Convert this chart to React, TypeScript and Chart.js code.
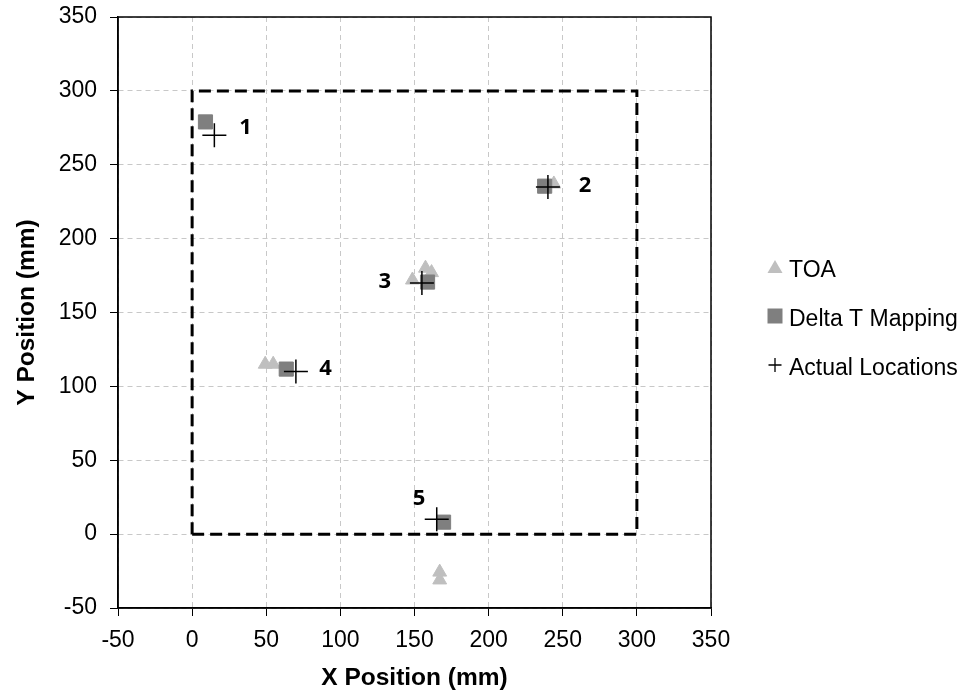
import React, { useEffect, useRef } from "react";
import { Chart, registerables } from "chart.js";

Chart.register(...registerables);

// TOA estimates
const toaX = [244, 148.6, 157.4, 161.5, 49.3, 54.7, 167, 167];
const toaY = [237, 172, 180, 177, 115, 115, -25.7, -31];
// Delta T Mapping estimates
const deltaX = [9, 237.8, 158.8, 63.5, 169.6];
const deltaY = [279, 235.5, 170.6, 111.7, 8.1];
// Actual locations
const actualX = [15, 240, 155, 70, 165];
const actualY = [270, 235, 170, 110, 10];
// Point number labels (data coordinates)
const labelText = ["1", "2", "3", "4", "5"];
const labelX = [36, 265, 130, 90, 153];
const labelY = [275, 236, 171, 112, 24];
// Test area outline
const areaX = [0, 0, 300, 300, 0];
const areaY = [0, 300, 300, 0, 0];

const axisMin = -50;
const axisMax = 350;
const axisStep = 50;

const zip = (xs: number[], ys: number[]) => xs.map((x, i) => ({ x, y: ys[i] }));

const framePlugin = {
  id: "frame",
  beforeDatasetsDraw(chart: any) {
    const { ctx, chartArea } = chart;
    ctx.save();
    ctx.strokeStyle = "#000";
    ctx.lineWidth = 1.5;
    ctx.setLineDash([]);
    ctx.strokeRect(chartArea.left, chartArea.top, chartArea.right - chartArea.left, chartArea.bottom - chartArea.top);
    ctx.restore();
  },
};

const labelPlugin = {
  id: "pointLabels",
  afterDatasetsDraw(chart: any) {
    const { ctx, scales } = chart;
    ctx.save();
    ctx.fillStyle = "#000";
    ctx.font = "bold 22px 'Open Sans'";
    ctx.textAlign = "center";
    ctx.textBaseline = "middle";
    labelText.forEach((t, i) => {
      ctx.fillText(t, scales.x.getPixelForValue(labelX[i]), scales.y.getPixelForValue(labelY[i]));
    });
    ctx.restore();
  },
};

// Legend drawn beside the plot area, styled from the datasets themselves
const sideLegendPlugin = {
  id: "sideLegend",
  afterDraw(chart: any) {
    const { ctx, chartArea } = chart;
    const items = chart.data.datasets.filter((d: any) => d.inLegend);
    const mid = (chartArea.top + chartArea.bottom) / 2 + 3.5;
    const gap = 49;
    const mx = chartArea.right + 64;
    const tx = chartArea.right + 78;
    ctx.save();
    items.forEach((d: any, i: number) => {
      const y = mid + (i - (items.length - 1) / 2) * gap;
      ctx.fillStyle = d.backgroundColor;
      ctx.strokeStyle = d.borderColor;
      ctx.setLineDash([]);
      ctx.beginPath();
      if (d.pointStyle === "triangle") {
        ctx.moveTo(mx, y - 7);
        ctx.lineTo(mx + 7.5, y + 6);
        ctx.lineTo(mx - 7.5, y + 6);
        ctx.closePath();
        ctx.fill();
      } else if (d.pointStyle === "rect") {
        ctx.rect(mx - 7.5, y - 7.5, 15, 15);
        ctx.fill();
      } else {
        ctx.lineWidth = 1.3;
        ctx.moveTo(mx - 6.5, y);
        ctx.lineTo(mx + 6.5, y);
        ctx.moveTo(mx, y - 7);
        ctx.lineTo(mx, y + 7);
        ctx.stroke();
      }
      ctx.fillStyle = "#000";
      ctx.font = "23px 'Liberation Sans', Arial";
      ctx.textAlign = "left";
      ctx.textBaseline = "alphabetic";
      ctx.fillText(d.label, tx, y + 10);
    });
    ctx.restore();
  },
};

export default function App() {
  const ref = useRef<HTMLCanvasElement>(null);
  useEffect(() => {
    if (!ref.current) return;
    const tickFont = { family: "'Liberation Sans', Arial", size: 23 };
    const titleFont = { family: "'Liberation Sans', Arial", size: 24.5, weight: "bold" as const };
    const axis = (title: string) => ({
      type: "linear" as const,
      min: axisMin,
      max: axisMax,
      ticks: { stepSize: axisStep, color: "#000", font: tickFont, padding: 12 },
      grid: {
        color: "#C8C8C8",
        tickColor: "#000",
        tickBorderDash: [],
        tickLength: 8,
        lineWidth: 1,
      },
      border: { display: true, color: "#000", width: 1.5, dash: [5, 4] },
      title: { display: true, text: title, color: "#000", font: titleFont },
    });
    const xAxis: any = axis("X Position (mm)");
    xAxis.ticks.padding = 11;
    xAxis.title.padding = { top: 10, bottom: 4 };
    xAxis.afterFit = (s: any) => {
      s.height = 89;
      s.paddingLeft = 0;
      s.paddingRight = 0;
    };
    const yAxis: any = axis("Y Position (mm)");
    yAxis.ticks.padding = 13;
    yAxis.title.padding = { top: 13, bottom: 4 };
    yAxis.afterFit = (s: any) => {
      s.width = 118;
      s.paddingTop = 0;
      s.paddingBottom = 0;
    };

    const chart = new Chart(ref.current, {
      type: "scatter",
      data: {
        datasets: [
          {
            label: "TOA",
            data: zip(toaX, toaY),
            pointStyle: "triangle",
            pointRadius: 8,
            backgroundColor: "#BFBFBF",
            borderColor: "#BFBFBF",
            borderWidth: 1,
            order: 3,
            inLegend: true,
          } as any,
          {
            label: "Delta T Mapping",
            data: zip(deltaX, deltaY),
            pointStyle: "rect",
            pointRadius: 10,
            backgroundColor: "#7F7F7F",
            borderColor: "#7F7F7F",
            borderWidth: 1,
            order: 2,
            inLegend: true,
          } as any,
          {
            label: "Actual Locations",
            data: zip(actualX, actualY),
            pointStyle: "cross",
            pointRadius: 12,
            backgroundColor: "#000",
            borderColor: "#000",
            borderWidth: 1.5,
            order: 1,
            inLegend: true,
          } as any,
          {
            label: "area",
            data: zip(areaX, areaY),
            showLine: true,
            pointRadius: 0,
            borderColor: "#000",
            borderWidth: 3,
            borderDash: [12, 6],
            order: 4,
          } as any,
        ],
      },
      options: {
        animation: false,
        responsive: true,
        maintainAspectRatio: false,
        layout: { padding: { top: 17, right: 256, left: 0, bottom: 0 } },
        scales: { x: xAxis, y: yAxis },
        plugins: {
          tooltip: { enabled: false },
          legend: { display: false },
        },
      },
      plugins: [framePlugin, labelPlugin, sideLegendPlugin],
    });
    return () => chart.destroy();
  }, []);
  return (
    <div style={{ position: "absolute", left: 0, top: 0, width: 967, height: 697, background: "#fff" }}>
      <canvas ref={ref} />
    </div>
  );
}
